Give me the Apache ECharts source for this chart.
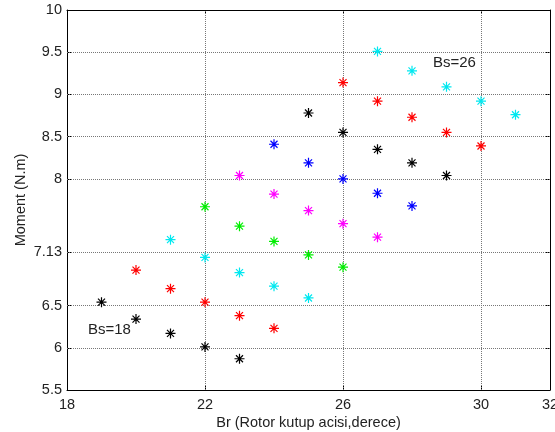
<!DOCTYPE html>
<html><head><meta charset="utf-8">
<script src="https://cdn.jsdelivr.net/npm/echarts@6/dist/echarts.min.js"></script>
<style>html,body{margin:0;padding:0;background:#fff}#c{width:555px;height:432px}</style>
</head><body><div id="c"></div>
<script>
const xTicks = [18, 22, 26, 30, 32];
const yTicks = [5.5, 6, 6.5, 7.13, 8, 8.5, 9, 9.5, 10];
const xName = 'Br (Rotor kutup acisi,derece)';
const yName = 'Moment (N.m)';

const s1x = [19, 20, 21, 22, 23], s1y = [6.54, 6.34, 6.17, 6.01, 5.87];
const s2x = [20, 21, 22, 23, 24], s2y = [6.92, 6.70, 6.54, 6.38, 6.23];
const s3x = [21, 22, 23, 24, 25], s3y = [7.28, 7.07, 6.89, 6.73, 6.59];
const s4x = [22, 23, 24, 25, 26], s4y = [7.67, 7.44, 7.26, 7.10, 6.955];
const s5x = [23, 24, 25, 26, 27], s5y = [8.04, 7.82, 7.625, 7.47, 7.31];
const s6x = [24, 25, 26, 27, 28], s6y = [8.41, 8.19, 8.00, 7.83, 7.68];
const s7x = [25, 26, 27, 28, 29], s7y = [8.78, 8.55, 8.35, 8.19, 8.04];
const s8x = [26, 27, 28, 29, 30], s8y = [9.14, 8.92, 8.73, 8.55, 8.39];
const s9x = [27, 28, 29, 30, 31], s9y = [9.51, 9.28, 9.09, 8.92, 8.76];
const seriesX = [s1x, s2x, s3x, s4x, s5x, s6x, s7x, s8x, s9x];
const seriesY = [s1y, s2y, s3y, s4y, s5y, s6y, s7y, s8y, s9y];
const colors = ['#000000', '#ff0000', '#00e8f0', '#00ee00', '#ff00ff', '#0000ff', '#000000', '#ff0000', '#00e8f0'];
const annotations = ['Bs=18', 'Bs=26'];

const font = "'Liberation Sans', Arial, sans-serif";
const star = 'path://M50 0 V100 M0 50 H100 M15 15 L85 85 M85 15 L15 85';

const series = seriesX.map((xs, i) => ({
  type: 'scatter',
  data: xs.map((x, j) => [x, seriesY[i][j]]),
  symbol: star,
  symbolSize: 10,
  itemStyle: { color: 'transparent', borderColor: colors[i], borderWidth: 1.2, opacity: 1 },
  z: 5
}));

series.push({
  type: 'scatter', data: [], silent: true,
  markLine: {
    silent: true, symbol: 'none', label: { show: false },
    lineStyle: { type: 'dotted', color: '#777', width: 1 },
    data: yTicks.slice(1, -1).map(v => ({ yAxis: v }))
      .concat(xTicks.slice(1, -1).map(v => ({ xAxis: v })))
  }
});

const tickCommon = { show: true, inside: true, length: 4, lineStyle: { color: '#000', width: 1 } };
const lineCommon = { show: true, onZero: false, lineStyle: { color: '#000', width: 1 } };

const chart = echarts.init(document.getElementById('c'), null, { renderer: 'canvas' });
chart.setOption({
  animation: false,
  backgroundColor: '#fff',
  grid: { left: 67, right: 5, top: 10, bottom: 42, outerBoundsMode: 'none', containLabel: false },
  xAxis: [{
    type: 'value', min: 18, max: 32, position: 'bottom',
    name: xName, nameLocation: 'middle', nameGap: 25, nameMoveOverlap: false,
    nameTextStyle: { fontFamily: font, fontSize: 14.5, color: '#222' },
    axisLine: lineCommon,
    axisTick: Object.assign({ customValues: xTicks }, tickCommon),
    axisLabel: { customValues: xTicks, margin: 7, fontFamily: font, fontSize: 14.5, color: '#222', showMaxLabel: true, hideOverlap: false },
    splitLine: { show: false }
  }, {
    type: 'value', min: 18, max: 32, position: 'top',
    axisLine: lineCommon,
    axisTick: Object.assign({ customValues: xTicks }, tickCommon),
    axisLabel: { show: false }, splitLine: { show: false }
  }],
  yAxis: [{
    type: 'value', min: 5.5, max: 10, position: 'left',
    name: yName, nameLocation: 'middle', nameGap: 39, nameRotate: 90, nameMoveOverlap: false,
    nameTextStyle: { fontFamily: font, fontSize: 14.5, color: '#222' },
    axisLine: lineCommon,
    axisTick: Object.assign({ customValues: yTicks }, tickCommon),
    axisLabel: { customValues: yTicks, margin: 5, fontFamily: font, fontSize: 14.5, color: '#222', hideOverlap: false },
    splitLine: { show: false }
  }, {
    type: 'value', min: 5.5, max: 10, position: 'right',
    axisLine: lineCommon,
    axisTick: Object.assign({ customValues: yTicks }, tickCommon),
    axisLabel: { show: false }, splitLine: { show: false }
  }],
  graphic: [
    { type: 'text', left: 88, top: 322, style: { text: annotations[0], font: '15px ' + font, fill: '#222' } },
    { type: 'text', left: 433, top: 55, style: { text: annotations[1], font: '15px ' + font, fill: '#222' } }
  ],
  series: series
});
</script>
</body></html>
